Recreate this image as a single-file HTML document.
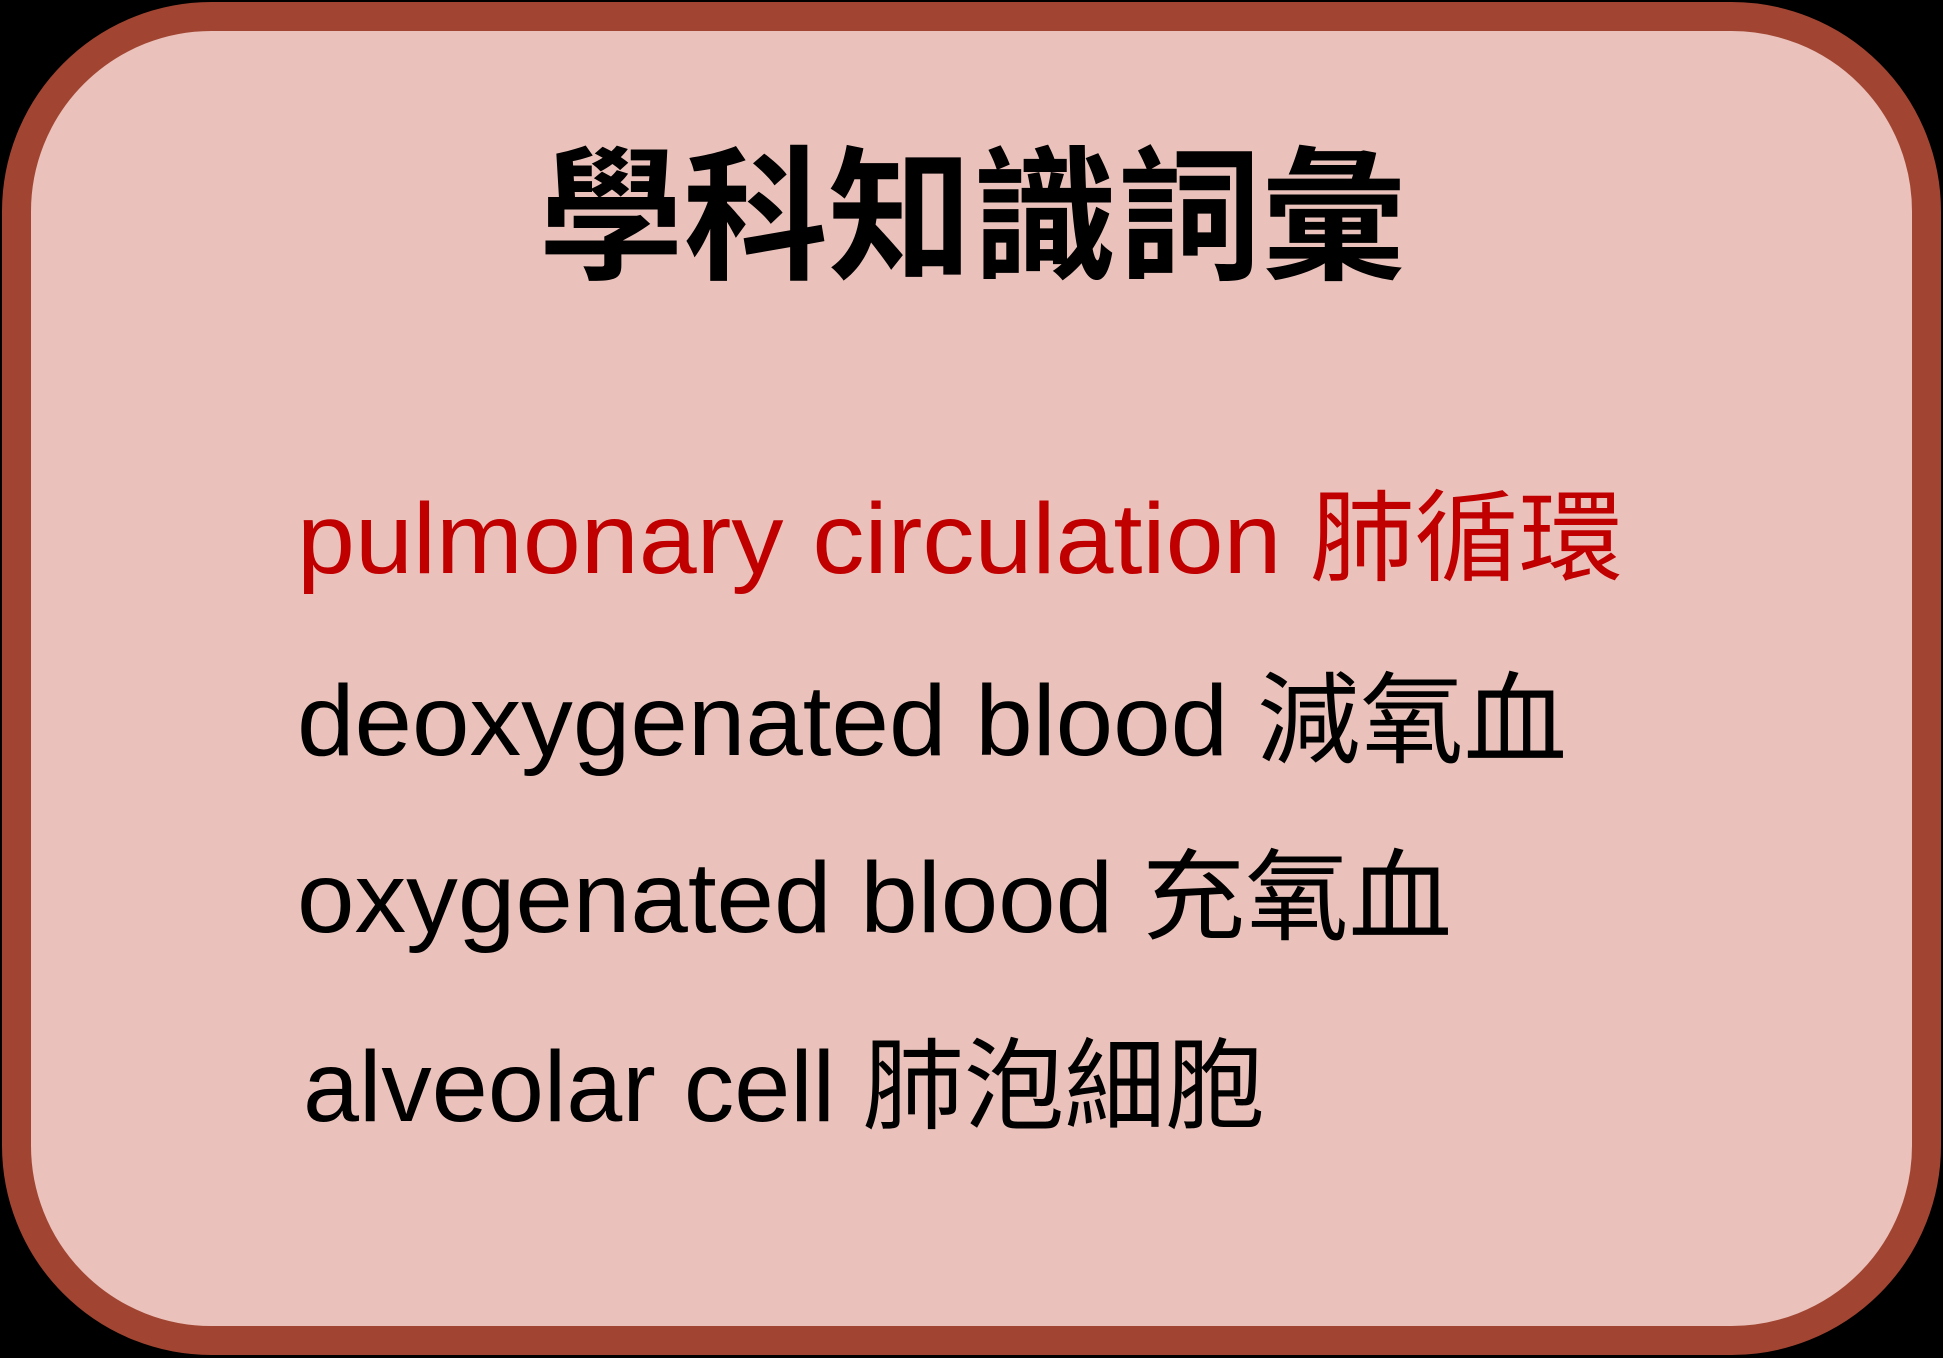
<!DOCTYPE html>
<html><head><meta charset="utf-8"><style>
html,body{margin:0;padding:0;background:#000;width:1943px;height:1358px;overflow:hidden}
</style></head><body>
<svg width="1943" height="1358" viewBox="0 0 1943 1358" xmlns="http://www.w3.org/2000/svg">
<rect x="0" y="0" width="1943" height="1358" fill="#000"/>
<rect x="16.5" y="16.5" width="1910" height="1324" rx="195" ry="195" fill="#eac2bb" stroke="#a14532" stroke-width="29"/>
<text x="539" y="268" textLength="867" lengthAdjust="spacingAndGlyphs" font-family="'Noto Sans CJK TC','Noto Sans CJK SC',sans-serif" font-weight="bold" font-size="145" fill="#000">學科知識詞彙</text>
<g font-family="'Liberation Sans','Noto Sans CJK TC',sans-serif" font-size="100">
<text x="297" y="573" textLength="1326" lengthAdjust="spacingAndGlyphs" fill="#c00000">pulmonary circulation 肺循環</text>
<text x="297" y="755" textLength="1270" lengthAdjust="spacingAndGlyphs" fill="#000">deoxygenated blood 減氧血</text>
<text x="297" y="932" textLength="1155" lengthAdjust="spacingAndGlyphs" fill="#000">oxygenated blood 充氧血</text>
<text x="303" y="1121" textLength="963" lengthAdjust="spacingAndGlyphs" fill="#000">alveolar cell 肺泡細胞</text>
</g>
</svg>
</body></html>
